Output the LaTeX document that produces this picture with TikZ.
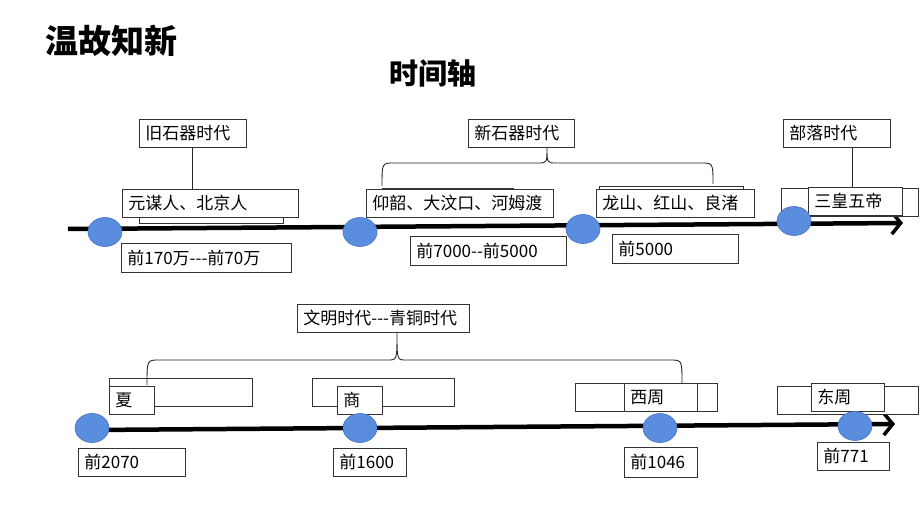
\documentclass[tikz,border=0pt]{standalone}
\usepackage{fontspec}
\newfontfamily\cnfont{Noto Sans CJK SC}
\usetikzlibrary{arrows.meta, shapes.geometric, positioning}

\definecolor{dotblue}{RGB}{91,141,222}
\definecolor{dotline}{RGB}{70,114,196}

\tikzset{
  box/.style={draw=black!80, line width=0.8pt, fill=white, inner xsep=6pt, inner ysep=0pt,
    minimum height=28pt, anchor=north west, align=left, text width=#1,
    font=\cnfont\fontsize{17}{19}\selectfont},
  dot/.style={ellipse, fill=dotblue, draw=dotline, line width=0.6pt,
    minimum width=34pt, minimum height=29pt, inner sep=0pt},
  axis/.style={line width=4.5pt, -{Straight Barb[length=9pt, width=22pt, line width=3.5pt]}},
  link/.style={line width=0.9pt, black!85},
  headline/.style={font=\cnfont\bfseries\fontsize{33}{36}\selectfont}
}

\begin{document}
\begin{tikzpicture}[x=1pt, y=-1pt]
  \useasboundingbox (0,0) rectangle (920,518);

  % titles
  \node[headline] (title) at (111,41) {温故知新};
  \node[headline, font=\cnfont\bfseries\fontsize{29}{32}\selectfont] (subtitle) at (433,73) {时间轴};

  % upper time line
  \coordinate (a1s) at (68,229);
  \coordinate (a1e) at (903,223);
  \draw[axis] (a1s) -- (a1e);

  % era boxes, upper row
  \node[box=95pt] (jiushiqi) at (139,119) {旧石器时代};
  \node[box=94pt] (xinshiqi) at (468,119) {新石器时代};
  \node[box=95pt] (buluo) at (783,119) {部落时代};

  % site boxes, upper row (back ones first)
  \node[box=132pt] (yuanmoubg) at (139,195) {};
  \node[box=164pt] (yuanmou) at (122,189) {元谋人、北京人};
  \node[box=119pt] (yangshaobg) at (382,188) {};
  \node[box=175pt] (yangshao) at (366,189) {仰韶、大汶口、河姆渡};
  \node[box=132pt] (longshanbg) at (599,186) {};
  \node[box=146pt] (longshan) at (596,189) {龙山、红山、良渚};
  \node[box=125pt] (sanhuangbg) at (781,188) {};
  \node[box=82pt] (sanhuang) at (808,187) {三皇五帝};

  % dates, upper row
  \node[box=158pt, minimum height=29pt] (date1) at (121,243) {前170万---前70万};
  \node[box=144pt, minimum height=29pt] (date2) at (410,236) {前7000--前5000};
  \node[box=114pt, minimum height=29pt] (date3) at (612,234) {前5000};

  % links to the eras
  \draw[link] (jiushiqi.south) -- (jiushiqi.south |- yuanmou.north);
  \coordinate (bl) at (852,147);
  \draw[link] (bl) -- (bl |- sanhuang.north);
  \coordinate (b1l) at (382,186);
  \coordinate (b1m) at (547,147);
  \coordinate (b1r) at (713,184);
  \draw[link] (b1l) .. controls (382,163) .. (394,163) -- (538,163)
    .. controls (547,163) .. (b1m) .. controls (547,163) .. (556,163) -- (701,163)
    .. controls (713,163) .. (b1r);

  % points, upper row
  \node[dot] (c1) at (105,232) {};
  \node[dot] (c2) at (360,232) {};
  \node[dot] (c3) at (583,229) {};
  \node[dot] (c4) at (794,221) {};

  % lower time line
  \coordinate (a2e) at (895,424);
  \draw[axis] (92,430) -- (a2e);

  \node[box=160pt] (wenming) at (297,304) {文明时代---青铜时代};

  % dynasty boxes (back ones first)
  \node[box=131pt] (xiabg) at (109,378) {};
  \node[box=33pt] (xia) at (109,386) {夏};
  \node[box=130pt] (shangbg) at (312,378) {};
  \node[box=33pt] (shang) at (337,386) {商};
  \node[box=130pt] (xizhoubg) at (575,383) {};
  \node[box=61pt] (xizhou) at (624,383) {西周};
  \node[box=129pt] (dongzhoubg) at (777,386) {};
  \node[box=61pt] (dongzhou) at (811,383) {东周};

  % brace over the dynasties
  \coordinate (b2l) at (147,385);
  \coordinate (b2r) at (682,383);
  \draw[link] (b2l) .. controls (147,360) .. (159,360) -- (388,360)
    .. controls (397,360) .. (397,332) .. controls (397,360) .. (406,360) -- (670,360)
    .. controls (682,360) .. (b2r);

  % dates, lower row
  \node[box=95pt] (date4) at (78,448) {前2070};
  \node[box=61pt] (date5) at (333,448) {前1600};
  \node[box=61pt, minimum height=30pt] (date6) at (624,447) {前1046};
  \node[box=60pt] (date7) at (817,442) {前771};

  % points, lower row
  \node[dot] (c5) at (92,428) {};
  \node[dot] (c6) at (360,428) {};
  \node[dot] (c7) at (660,428) {};
  \node[dot] (c8) at (855,426) {};
\end{tikzpicture}
\end{document}
